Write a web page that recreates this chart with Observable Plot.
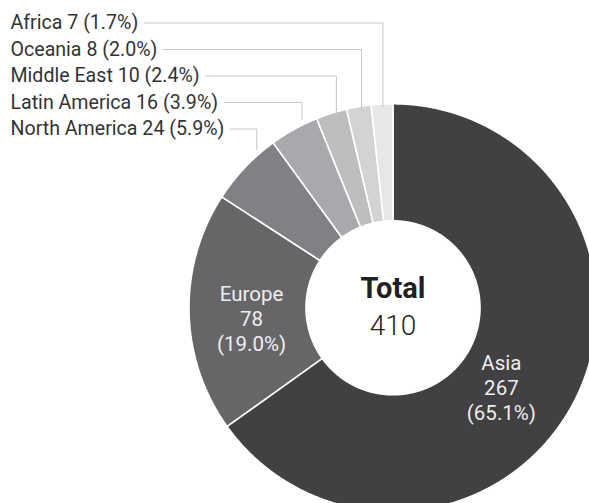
<!DOCTYPE html>
<html><head><meta charset="utf-8">
<script src="https://cdn.jsdelivr.net/npm/d3@7"></script>
<script src="https://cdn.jsdelivr.net/npm/@observablehq/plot@0.6"></script>
<style>
html,body{margin:0;padding:0;background:#fff;overflow:hidden;}
#chart{width:589px;height:503px;overflow:hidden;}
</style></head><body><div id="chart"></div>
<script>
// ---- data ----
const regions = ["Asia","Europe","North America","Latin America","Middle East","Oceania","Africa"];
const counts = [267,78,24,16,10,8,7];
const shares = ["65.1%","19.0%","5.9%","3.9%","2.4%","2.0%","1.7%"];
const grays = ["#414042","#666668","#808184","#a7a9ac","#bcbec0","#d1d3d4","#e6e7e8"];
const insideRegions = ["Asia","Europe"];
const outsideOrder = ["Africa","Oceania","Middle East","Latin America","North America"];
const totalLabel = "Total";

// ---- layout ----
const W = 589, H = 503, CX = 392.5, CY = 307.3, R = 204, RI = 87;
const FONT = "Roboto, 'Open Sans', sans-serif";
const OUT_FS = 19.6;
const total = d3.sum(counts);
const rows = regions.map((name, i) => ({name, value: counts[i], share: shares[i]}));
const arcs = d3.pie().sort(null).value(d => d.value)(rows);
const pol = (a, r) => [CX + r * Math.sin(a), CY - r * Math.cos(a)];

// slice polygons
const pts = [];
arcs.forEach(p => {
  const n = Math.max(2, Math.ceil((p.endAngle - p.startAngle) / 0.005));
  for (let k = 0; k <= n; k++) {
    const a = p.startAngle + (p.endAngle - p.startAngle) * k / n;
    const [x, y] = pol(a, R); pts.push({name: p.data.name, x, y});
  }
  for (let k = n; k >= 0; k--) {
    const a = p.startAngle + (p.endAngle - p.startAngle) * k / n;
    const [x, y] = pol(a, RI); pts.push({name: p.data.name, x, y});
  }
});

// inside labels
const inside = arcs.filter(p => insideRegions.includes(p.data.name)).map(p => {
  const [x, y] = pol((p.startAngle + p.endAngle) / 2, (R + RI) / 2);
  return {name: p.data.name, x, y, text: `${p.data.name}\n${p.data.value}\n(${p.data.share})`};
});

// outside labels + leader lines
const ctx = document.createElement("canvas").getContext("2d");
ctx.font = `${OUT_FS}px ${FONT}`;
const outside = outsideOrder.map((name, i) => {
  const p = arcs.find(a => a.data.name === name);
  const text = `${name} ${p.data.value} (${p.data.share})`;
  const ry = 22.5 + i * 26.5;
  const mid = (p.startAngle + p.endAngle) / 2;
  const lx = CX + 0.92 * R * Math.sin(mid);
  const ey = Math.min(CY - Math.sqrt(R * R - (lx - CX) ** 2) + 3, 112 + i * 2);
  const sx = 10 + ctx.measureText(text).width + 6;
  return {name, text, ry, lx, ey: Math.max(ey, CY - Math.sqrt(R * R - (lx - CX) ** 2) - 6), sx};
});
const leaders = outside.flatMap(o => [
  {name: o.name, x: o.sx, y: o.ry},
  {name: o.name, x: o.lx, y: o.ry},
  {name: o.name, x: o.lx, y: o.ey}
]);

const plot = Plot.plot({
  width: W, height: H, margin: 0,
  x: {domain: [0, W], range: [0, W], axis: null},
  y: {domain: [0, H], range: [0, H], axis: null},
  color: {domain: regions, range: grays},
  style: {fontFamily: FONT, background: "white"},
  marks: [
    Plot.line(pts, {x: "x", y: "y", z: "name", fill: "name", stroke: "white", strokeWidth: 1.6, curve: "linear-closed", clip: true}),
    Plot.line(leaders, {x: "x", y: "y", z: "name", stroke: "#c6c6c6", strokeWidth: 1}),
    Plot.text(outside, {x: () => 10, y: "ry", text: "text", textAnchor: "start", fontSize: OUT_FS, fill: "#333"}),
    Plot.text(inside.filter(d => d.name === "Asia"), {x: "x", y: "y", text: "text", fontSize: 20.5, lineHeight: 1.22, fill: "#eeeeee", dx: -21, dy: 13}),
    Plot.text(inside.filter(d => d.name === "Europe"), {x: "x", y: "y", text: "text", fontSize: 20.5, lineHeight: 1.22, fill: "#eeeeee", dx: 4, dy: 7}),
    Plot.text([totalLabel], {x: () => CX, y: () => 297, text: d => d, lineAnchor: "bottom", fontSize: 29, fontWeight: "bold", fill: "#231f20"}),
    Plot.text([total], {x: () => CX, y: () => 334, text: d => String(d), lineAnchor: "bottom", fontSize: 28, fontWeight: 300, fill: "#231f20"})
  ]
});
document.getElementById("chart").appendChild(plot);
</script></body></html>
